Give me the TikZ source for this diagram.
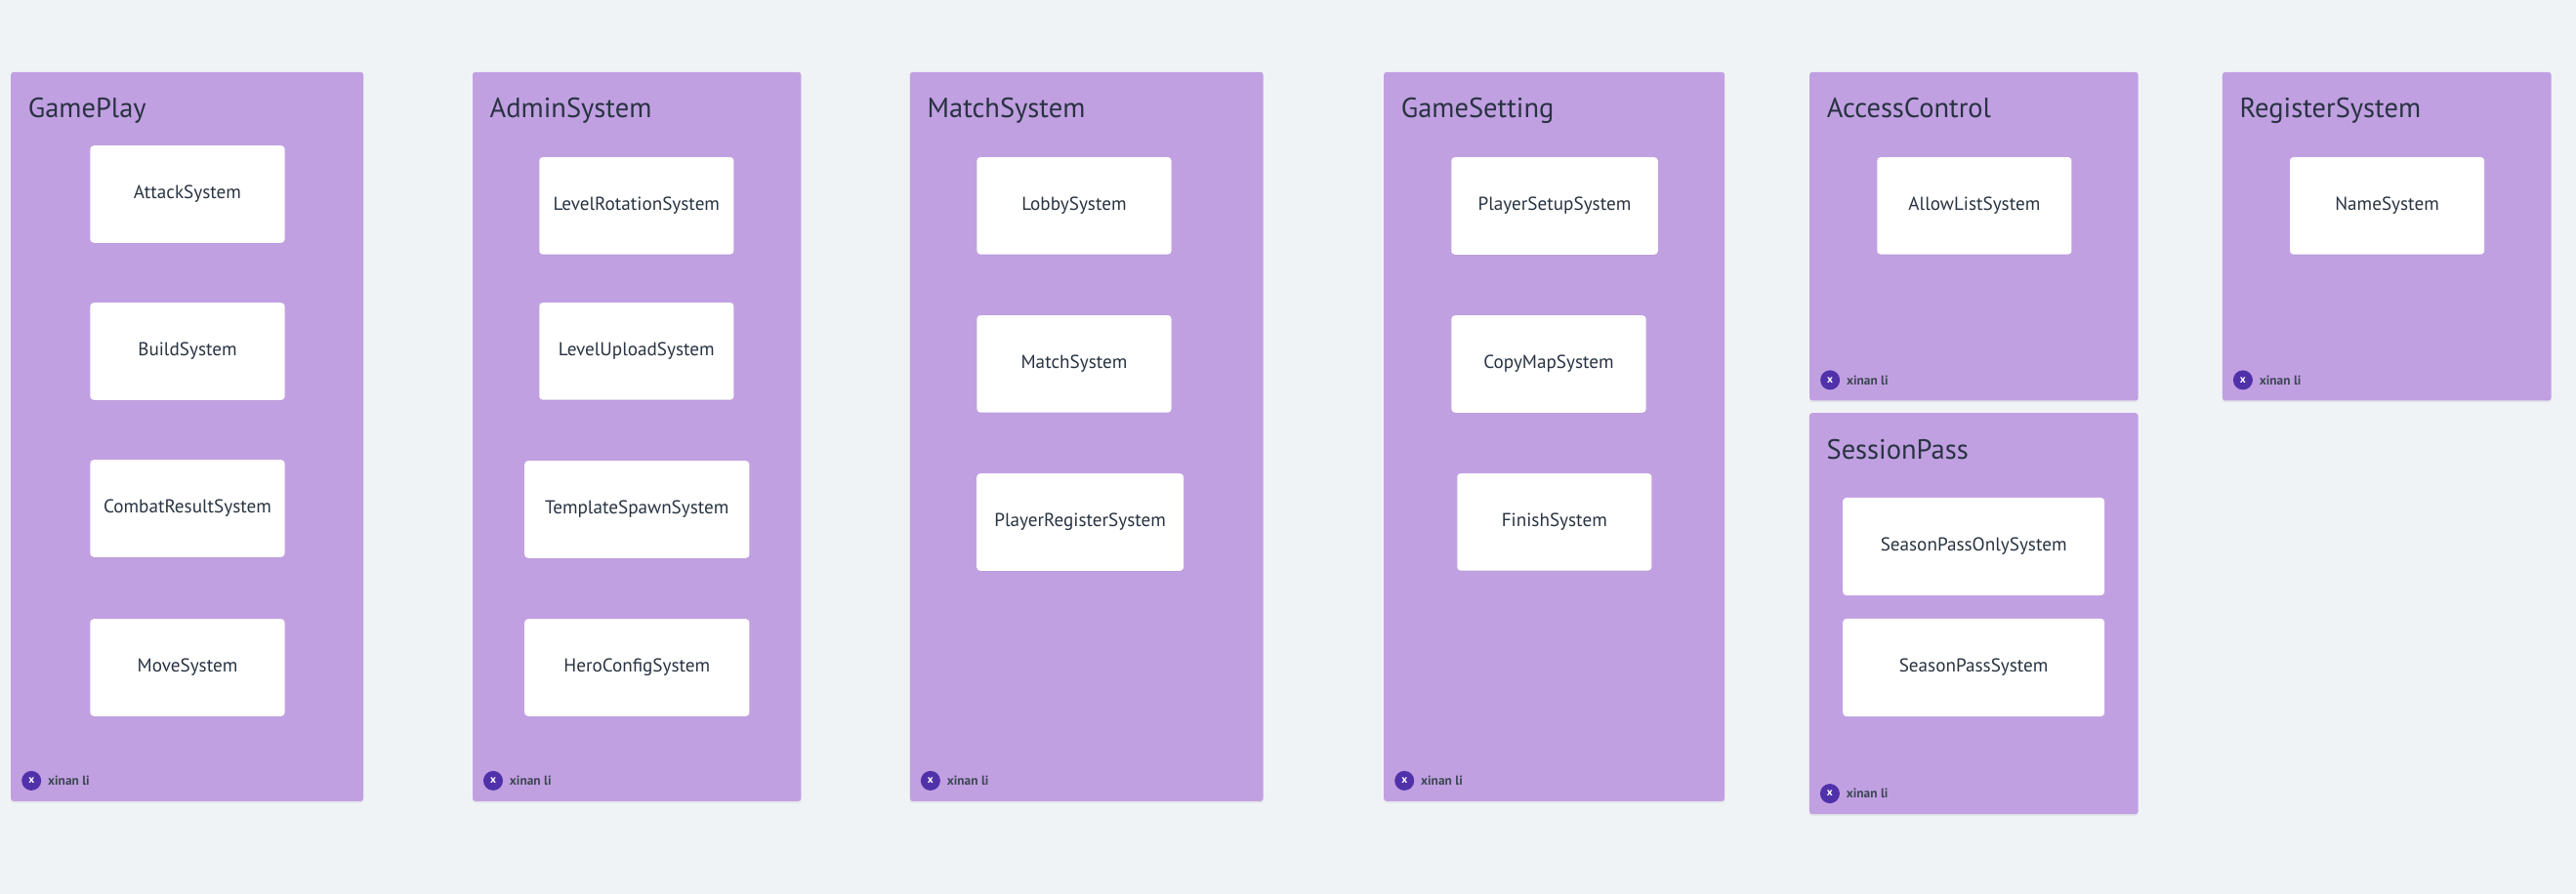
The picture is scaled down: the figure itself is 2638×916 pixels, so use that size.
\documentclass[tikz,border=0pt]{standalone}
\usepackage{fontspec}
\setmainfont{PT Sans}
\usetikzlibrary{positioning,shadows}
\definecolor{boardbg}{HTML}{F0F3F6}
\definecolor{framefill}{HTML}{C1A0E2}
\definecolor{inktext}{HTML}{283341}
\definecolor{avatarfill}{HTML}{5031A9}
\tikzset{
  frame/.style={fill=framefill, rounded corners=0.8pt, inner sep=0pt, outer sep=0pt,
    drop shadow={shadow xshift=0pt, shadow yshift=-0.5pt, opacity=0.12}},
  frametitle/.style={anchor=base west, inner sep=0pt, text=inktext,
    font=\fontsize{8.1}{10}\selectfont},
  sysbox/.style={fill=white, rounded corners=1pt, inner sep=0pt,
    minimum width=1.99cm, minimum height=0.995cm, text=inktext,
    font=\fontsize{5.45}{6}\selectfont,
    drop shadow={shadow xshift=0pt, shadow yshift=-0.3pt, opacity=0.08}},
  avatar/.style={circle, fill=avatarfill, minimum size=0.2cm, inner sep=0pt,
    text=white, font=\fontsize{3.2}{4}\selectfont\bfseries},
  owner/.style={anchor=west, inner sep=0pt, text=inktext!90,
    font=\fontsize{3.8}{4.5}\selectfont\bfseries},
}

\begin{document}
\begin{tikzpicture}[x=0.01cm, y=-0.01cm]
    \path[fill=boardbg] (0,0) rectangle (2638,916);

    % frames
    \node[frame, minimum width=3.607cm, minimum height=7.467cm] (gameplay)    at (191.65,447.35) {};
    \node[frame, minimum width=3.362cm, minimum height=7.467cm] (admin)       at (652.2,447.35)  {};
    \node[frame, minimum width=3.615cm, minimum height=7.467cm] (match)       at (1112.75,447.35){};
    \node[frame, minimum width=3.487cm, minimum height=7.467cm] (gamesetting) at (1591.65,447.35){};
    \node[frame, minimum width=3.364cm, minimum height=3.363cm] (access)      at (2021.4,242.15) {};
    \node[frame, minimum width=3.365cm, minimum height=3.363cm] (register)    at (2444.25,242.15){};
    \node[frame, minimum width=3.365cm, minimum height=4.107cm] (session)     at (2021.25,628.65){};

    % titles
    \node[frametitle] (gameplaytitle)    at ([xshift=0.17cm,yshift=-0.47cm]gameplay.north west)    {GamePlay};
    \node[frametitle] (admintitle)       at ([xshift=0.17cm,yshift=-0.47cm]admin.north west)       {AdminSystem};
    \node[frametitle] (matchtitle)       at ([xshift=0.17cm,yshift=-0.47cm]match.north west)       {MatchSystem};
    \node[frametitle] (gamesettingtitle) at ([xshift=0.17cm,yshift=-0.47cm]gamesetting.north west) {GameSetting};
    \node[frametitle] (accesstitle)      at ([xshift=0.17cm,yshift=-0.47cm]access.north west)      {AccessControl};
    \node[frametitle] (registertitle)    at ([xshift=0.17cm,yshift=-0.47cm]register.north west)    {RegisterSystem};
    \node[frametitle] (sessiontitle)     at ([xshift=0.17cm,yshift=-0.47cm]session.north west)     {SessionPass};

    % systems
    \node[sysbox] (attack)  at (192,199) {AttackSystem};
    \node[sysbox] (build)   at (192,360) {BuildSystem};
    \node[sysbox] (combat)  at (192,521) {CombatResultSystem};
    \node[sysbox] (move)    at (192,684) {MoveSystem};

    \node[sysbox]                     (levelrot)  at (651.85,210.85) {LevelRotationSystem};
    \node[sysbox]                     (levelup)   at (651.85,359.85) {LevelUploadSystem};
    \node[sysbox, minimum width=2.3cm] (template) at (652.3,522)     {TemplateSpawnSystem};
    \node[sysbox, minimum width=2.3cm] (heroconf) at (652.3,684)     {HeroConfigSystem};

    \node[sysbox]                        (lobby)     at (1100,210.85)  {LobbySystem};
    \node[sysbox]                        (matchsys)  at (1100,372.85)  {MatchSystem};
    \node[sysbox, minimum width=2.117cm] (playerreg) at (1106.15,535)  {PlayerRegisterSystem};

    \node[sysbox, minimum width=2.114cm] (playersetup) at (1592,211)     {PlayerSetupSystem};
    \node[sysbox]                        (copymap)     at (1586,373)     {CopyMapSystem};
    \node[sysbox]                        (finish)      at (1591.8,534.85){FinishSystem};

    \node[sysbox] (allowlist) at (2021.9,210.85)  {AllowListSystem};
    \node[sysbox] (namesys)   at (2444.55,210.85) {NameSystem};

    \node[sysbox, minimum width=2.677cm, minimum height=1cm] (seasononly) at (2021.15,560) {SeasonPassOnlySystem};
    \node[sysbox, minimum width=2.677cm, minimum height=1cm] (seasonpass) at (2021.15,684) {SeasonPassSystem};

    % owners
    \node[avatar] (gameplayav)    at ([xshift=0.21cm,yshift=0.21cm]gameplay.south west)    {x};
    \node[avatar] (adminav)       at ([xshift=0.21cm,yshift=0.21cm]admin.south west)       {x};
    \node[avatar] (matchav)       at ([xshift=0.21cm,yshift=0.21cm]match.south west)       {x};
    \node[avatar] (gamesettingav) at ([xshift=0.21cm,yshift=0.21cm]gamesetting.south west) {x};
    \node[avatar] (accessav)      at ([xshift=0.21cm,yshift=0.21cm]access.south west)      {x};
    \node[avatar] (registerav)    at ([xshift=0.21cm,yshift=0.21cm]register.south west)    {x};
    \node[avatar] (sessionav)     at ([xshift=0.21cm,yshift=0.21cm]session.south west)     {x};

    \node[owner, right=0.055cm of gameplayav]    (gameplayown)    {xinan li};
    \node[owner, right=0.055cm of adminav]       (adminown)       {xinan li};
    \node[owner, right=0.055cm of matchav]       (matchown)       {xinan li};
    \node[owner, right=0.055cm of gamesettingav] (gamesettingown) {xinan li};
    \node[owner, right=0.055cm of accessav]      (accessown)      {xinan li};
    \node[owner, right=0.055cm of registerav]    (registerown)    {xinan li};
    \node[owner, right=0.055cm of sessionav]     (sessionown)     {xinan li};
\end{tikzpicture}
\end{document}
